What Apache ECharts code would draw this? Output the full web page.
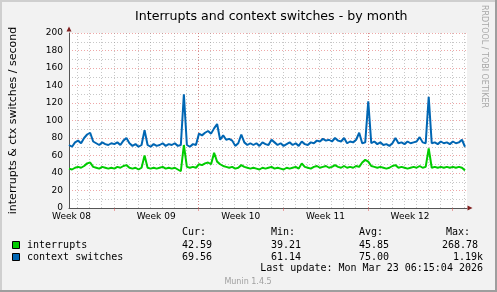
<!DOCTYPE html>
<html><head><meta charset="utf-8">
<script src="https://cdn.jsdelivr.net/npm/echarts@6/dist/echarts.min.js"></script>
<style>html,body{margin:0;padding:0;background:#f2f2f2}#c{width:497px;height:292px}</style>
</head><body><div id="c"></div>
<script>
const chartTitle = 'Interrupts and context switches - by month';
const yAxisTitle = 'interrupts & ctx switches / second';
const stepHours = 6; // one sample every 6 hours
const interrupts = [45,44,46,47,46,48,51,52,47,46,
 45,47,46,45,46,45,47,46,48,49,
 46,45,46,44,46,60,46,45,46,45,
 46,47,45,46,45,46,44,42,72,47,
 46,47,46,50,49,51,52,50,63,53,
 50,48,47,46,47,45,46,49,47,46,
 45,46,45,44,46,45,46,47,45,46,
 45,44,46,45,46,47,45,51,47,46,
 45,47,48,46,47,48,46,47,49,47,
 46,48,46,47,46,48,47,52,55,53,
 48,47,46,47,46,45,46,48,49,46,
 47,46,45,46,47,46,48,46,47,68,
 46,47,46,47,46,47,46,47,46,47,
 46,43];
const contextSwitches = [72,70,75,77,74,80,84,86,76,74,
 72,75,73,72,74,73,75,72,77,80,
 74,71,73,70,72,89,72,70,73,71,
 72,74,71,73,72,74,71,72,130,72,
 70,73,72,85,83,86,88,85,91,96,
 78,83,78,79,77,71,74,84,75,72,
 74,72,74,71,75,73,72,78,75,72,
 74,71,73,75,72,74,71,76,73,72,
 75,74,77,76,79,77,78,76,80,77,
 76,80,74,76,75,78,86,74,75,122,
 74,76,73,75,72,73,71,74,80,74,
 75,73,76,74,75,76,81,75,74,127,
 74,75,73,76,74,75,73,76,74,75,
 78,70];
const xMaxHours = 790;
const weekLabels = ['Week 08','Week 09','Week 10','Week 11','Week 12'];
const weekLabelHours = [5,173,341,509,677];
const weekTickHours = [89,257,425,593,761];
const majorLineHours = [257,593];
const dayLineHours = [17,41,65,89,113,137,161,185,209,233,257,281,305,329,353,377,401,425,449,473,497,521,545,569,593,617,641,665,689,713,737,761,785];
const yMin = 0, yMax = 200, yStep = 20;
const seriesNames = ['interrupts','context switches'];
const seriesColors = ['#00cc00','#0066b3'];
const statHeaders = ['Cur:','Min:','Avg:','Max:'];
const curValues = ['42.59','69.56'];
const minValues = ['39.21','61.14'];
const avgValues = ['45.85','75.00'];
const maxValues = ['268.78','1.19k'];
const lastUpdate = 'Last update: Mon Mar 23 06:15:04 2026';
const footerText = 'Munin 1.4.5';
const watermark = 'RRDTOOL / TOBI OETIKER';

const chart = echarts.init(document.getElementById('c'), null, {renderer:'canvas'});
const SANS = 'DejaVu Sans', MONO = 'DejaVu Sans Mono';
const gridGray = 'rgba(143,143,143,0.5)';
const gridRed = 'rgba(222,79,79,0.5)';
const axisCol = '#555';
const arrowCol = '#801f1f';

function toPairs(arr){ return arr.map((v,i)=>[i*stepHours, v]); }

function txt(text, x, y, font, fill, align){
  return {type:'text', x:x, y:y, silent:true, style:{text:text, font:font, fill:fill||'#000', align:align||'left', textAlign:align||'left', verticalAlign:'middle', textVerticalAlign:'middle'}};
}
const g = [];
// 3D frame
g.push({type:'rect', shape:{x:0,y:0,width:497,height:2}, style:{fill:'#cfcfcf'}, silent:true});
g.push({type:'rect', shape:{x:0,y:0,width:2,height:292}, style:{fill:'#cfcfcf'}, silent:true});
g.push({type:'rect', shape:{x:0,y:290,width:497,height:2}, style:{fill:'#9e9e9e'}, silent:true});
g.push({type:'rect', shape:{x:495,y:0,width:2,height:292}, style:{fill:'#9e9e9e'}, silent:true});
// watermark
g.push({type:'text', x:484, y:5, rotation:-Math.PI/2, silent:true, style:{text:watermark, font:'8px '+SANS, fill:'#a8a8a8', align:'left', textAlign:'left', verticalAlign:'middle', textVerticalAlign:'middle'}});
// legend
const rowY = [245, 257];
seriesNames.forEach((n,i)=>{
  g.push({type:'rect', shape:{x:12.5,y:rowY[i]-3.5,width:7,height:7}, style:{fill:seriesColors[i], stroke:'#000', lineWidth:1}, silent:true});
  g.push(txt(n, 27, rowY[i], '10px '+MONO));
  g.push(txt(curValues[i], 182, rowY[i], '10px '+MONO));
  g.push(txt(minValues[i], 271, rowY[i], '10px '+MONO));
  g.push(txt(avgValues[i], 359, rowY[i], '10px '+MONO));
  g.push(txt(maxValues[i], i===0?478:483, rowY[i], '10px '+MONO, '#000', 'right'));
});
g.push(txt(statHeaders[0], 182, 232, '10px '+MONO));
g.push(txt(statHeaders[1], 271, 232, '10px '+MONO));
g.push(txt(statHeaders[2], 359, 232, '10px '+MONO));
g.push(txt(statHeaders[3], 470, 232, '10px '+MONO, '#000', 'right'));
g.push(txt(lastUpdate, 483, 268, '10px '+MONO, '#000', 'right'));
g.push(txt(footerText, 248, 282, '8px '+SANS, '#a0a0a0', 'center'));

const baseX = {type:'value', position:'bottom', min:0, max:xMaxHours, gridIndex:0, axisLabel:{show:false}, axisTick:{show:false}, axisLine:{show:false}, splitLine:{show:false}};
const option = {
  backgroundColor:'#f2f2f2',
  animation:false,
  title:{text:chartTitle, left:130, top:5, textStyle:{fontFamily:SANS, fontSize:12.6, fontWeight:'normal', color:'#000'}},
  grid:{left:67, top:33, width:400, height:175, show:true, backgroundColor:'#fff', borderWidth:0},
  xAxis:[
    Object.assign({}, baseX, {
      axisLine:{show:true, onZero:false, lineStyle:{color:axisCol, width:1}},
      axisTick:{show:true, customValues:weekTickHours, length:3, inside:false, lineStyle:{color:gridRed, width:1}},
      axisLabel:{show:true, customValues:weekLabelHours, formatter:(v)=>weekLabels[weekLabelHours.indexOf(v)], fontFamily:SANS, fontSize:9, color:'#000', margin:4}
    }),
    Object.assign({}, baseX, {axisTick:{show:false, customValues:dayLineHours}, splitLine:{show:true, lineStyle:{color:gridGray, width:1, type:[1,2]}}}),
    Object.assign({}, baseX, {axisTick:{show:false, customValues:majorLineHours}, splitLine:{show:true, lineStyle:{color:gridRed, width:1, type:[1,2]}}}),
    Object.assign({}, baseX, {axisLine:{show:true, onZero:false, lineStyle:{color:arrowCol, width:0}, symbol:['none','triangle'], symbolSize:[5,5], symbolOffset:[0,3]}})
  ],
  yAxis:[
    {type:'value', position:'left', min:yMin, max:yMax, interval:yStep,
     name:yAxisTitle, nameLocation:'middle', nameRotate:90, nameGap:50,
     nameTextStyle:{fontFamily:SANS, fontSize:11, color:'#000'},
     axisLine:{show:true, lineStyle:{color:axisCol, width:1}},
     axisTick:{show:false},
     axisLabel:{fontFamily:SANS, fontSize:9, color:'#000', margin:6},
     splitLine:{show:true, lineStyle:{color:gridRed, width:1, type:[1,2]}},
     minorTick:{show:false, splitNumber:2},
     minorSplitLine:{show:true, lineStyle:{color:gridGray, width:1, type:[1,2]}}
    },
    {type:'value', position:'left', min:yMin, max:yMax, axisLabel:{show:false}, axisTick:{show:false}, splitLine:{show:false},
     axisLine:{show:true, onZero:false, lineStyle:{color:arrowCol, width:0}, symbol:['none','triangle'], symbolSize:[5,5], symbolOffset:[0,4]}}
  ],
  series:[
    {name:seriesNames[0], type:'line', xAxisIndex:0, yAxisIndex:0, data:toPairs(interrupts), showSymbol:false, symbol:'none', lineStyle:{color:seriesColors[0], width:2}, itemStyle:{color:seriesColors[0]}, z:3},
    {name:seriesNames[1], type:'line', xAxisIndex:0, yAxisIndex:0, data:toPairs(contextSwitches), showSymbol:false, symbol:'none', lineStyle:{color:seriesColors[1], width:2}, itemStyle:{color:seriesColors[1]}, z:3}
  ],
  graphic:{elements:g}
};
chart.setOption(option);
</script></body></html>
